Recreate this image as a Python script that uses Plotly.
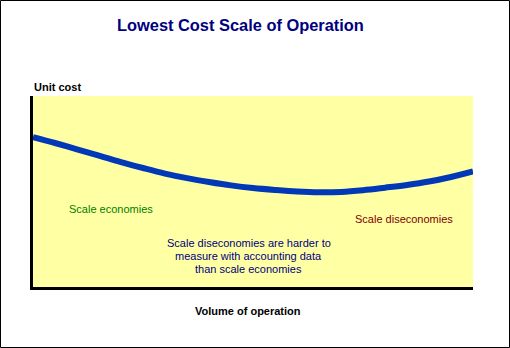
import plotly.graph_objects as go

# Long-run average cost curve: unit cost against volume of operation
volume = [0, 0.5, 1, 1.5, 2, 2.5, 3, 3.5, 4, 4.5, 5, 5.5, 6, 6.5, 7, 7.5, 8, 8.5, 9, 9.5, 10]
unit_cost = [78.5, 75.4, 72.1, 68.8, 65.4, 62.3, 59.4, 57.0, 55.0, 53.2, 51.8,
             50.8, 50.0, 49.6, 49.8, 50.7, 52.0, 53.4, 55.2, 57.6, 60.5]

W, H = 510, 348
ML, MR, MT, MB = 33, 37, 96, 61
PW, PH = W - ML - MR, H - MT - MB


def px(x):
    return (x - ML) / PW


def py(y):
    return (H - MB - y) / PH


FONT = "Liberation Sans, Arial, sans-serif"

fig = go.Figure()
fig.add_trace(go.Scatter(
    x=volume, y=unit_cost, mode="lines",
    line=dict(color="#0038B8", width=6, shape="spline"),
    hoverinfo="skip", showlegend=False, cliponaxis=False,
))


def label(text, x, y, color, size=11, bold=False, xanchor="center"):
    if bold:
        text = "<b>" + text + "</b>"
    fig.add_annotation(
        text=text, x=px(x), y=py(y), xref="paper", yref="paper",
        xanchor=xanchor, yanchor="middle", showarrow=False,
        font=dict(family=FONT, size=size, color=color),
    )


label("Lowest Cost Scale of Operation", 240.5, 25, "#000080", size=16.4, bold=True)
label("Unit cost", 32, 87, "#000000", bold=True, xanchor="left")
label("Scale economies", 111, 209, "#008000")
label("Scale diseconomies", 404, 219, "#800000")
label("Scale diseconomies are harder to", 248.5, 243, "#000080")
label("measure with accounting data", 248.5, 256, "#000080")
label("than scale economies", 248.5, 269, "#000080")
label("Volume of operation", 248, 310.5, "#000000", bold=True)

# thin frame around the whole chart
fig.add_shape(
    type="rect", xref="paper", yref="paper",
    x0=px(0.5), x1=px(W - 0.5), y0=py(H - 0.5), y1=py(0.5),
    line=dict(color="#000000", width=1), fillcolor="rgba(0,0,0,0)", layer="above",
)

fig.update_layout(
    width=W, height=H, autosize=False,
    margin=dict(l=ML, r=MR, t=MT, b=MB, pad=0),
    paper_bgcolor="#FFFFFF", plot_bgcolor="#FFFFA4",
    font=dict(family=FONT, size=11, color="#000000"),
    xaxis=dict(range=[0, 10], showgrid=False, zeroline=False, showticklabels=False,
               ticks="", showline=True, linecolor="#000000", linewidth=3, fixedrange=True),
    yaxis=dict(range=[0, 100], showgrid=False, zeroline=False, showticklabels=False,
               ticks="", showline=True, linecolor="#000000", linewidth=3, fixedrange=True),
)

fig.write_html("out.html", config={"displayModeBar": False, "staticPlot": True})
